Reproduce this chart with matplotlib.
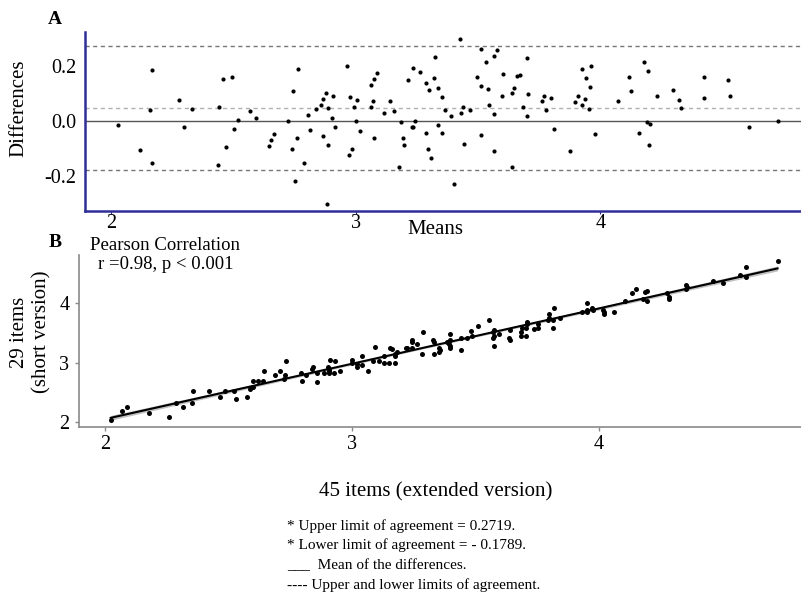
import numpy as np
import matplotlib
matplotlib.use("Agg")
import matplotlib.pyplot as plt

plt.rcParams['font.family'] = ['Liberation Serif', 'DejaVu Serif']

# Panel A (Bland-Altman): means and differences
means = [2.030, 2.120, 2.167, 2.158, 2.166, 2.279, 2.299, 2.332, 2.456, 2.495,
         2.440, 2.520, 2.503, 2.471, 2.437, 2.570, 2.592,
         2.645, 2.656, 2.665, 2.725, 2.740, 2.744, 2.763, 2.762, 2.752, 2.787,
         2.805, 2.812, 2.838, 2.857, 2.868, 2.879, 2.886, 2.867, 2.887, 2.902,
         2.907, 2.916, 2.884, 2.965, 2.976, 2.973, 2.984, 2.995, 3.004, 3.000,
         3.018, 3.064, 3.076, 3.087, 3.061, 3.072, 3.073, 3.117, 3.140, 3.157,
         3.185, 3.192, 3.197, 3.176, 3.212, 3.236, 3.264, 3.230, 3.236, 3.242,
         3.286, 3.298, 3.320, 3.325, 3.336, 3.287, 3.294, 3.310, 3.338,
         3.352, 3.352, 3.366, 3.388, 3.403, 3.426, 3.429, 3.440, 3.441, 3.468,
         3.494, 3.511, 3.511, 3.511, 3.531, 3.540, 3.545, 3.564, 3.564, 3.567,
         3.578, 3.601, 3.597, 3.637, 3.647, 3.640, 3.658, 3.670, 3.682, 3.699,
         3.701, 3.705, 3.760, 3.770, 3.778, 3.800, 3.812, 3.875, 3.896, 3.907,
         3.925, 3.942, 3.963, 3.924, 3.936, 3.956, 3.952, 3.977,
         4.071, 4.116, 4.124, 4.156, 4.177, 4.196, 4.191, 4.201, 4.197, 4.231,
         4.297, 4.322, 4.331, 4.423, 4.422, 4.522, 4.528, 4.608, 4.724]
diffs = [-0.013, -0.105, 0.184, 0.039, -0.152, 0.075, -0.023, 0.044, 0.152, 0.160,
         0.051, 0.005, -0.029, -0.096, -0.161, 0.037, 0.012,
         -0.091, -0.068, -0.047, 0.002, -0.103, 0.108, 0.190, -0.061, -0.217, -0.152,
         0.023, -0.033, 0.044, 0.059, 0.081, 0.102, 0.047, -0.055, -0.088, 0.011,
         0.091, -0.022, -0.301, 0.201, 0.088, -0.125, -0.102, 0.053, 0.076, 0.000,
         -0.035, 0.130, 0.152, 0.175, 0.053, 0.074, -0.061, 0.028, 0.072, 0.038,
         -0.004, -0.061, -0.087, -0.166, 0.148, 0.192, 0.179, -0.021, -0.023, 0.002,
         0.139, 0.112, 0.155, 0.234, 0.121, -0.045, -0.101, -0.135, -0.013,
         0.087, -0.043, 0.039, 0.018, -0.228, 0.297, 0.029, 0.051, -0.084, 0.039,
         0.160, 0.261, 0.127, -0.052, 0.215, 0.115, 0.058, 0.024, -0.109, 0.237,
         0.259, 0.170, 0.090, 0.102, 0.121, -0.168, 0.164, 0.167, 0.053, 0.018,
         0.228, 0.098, 0.074, 0.091, 0.039, 0.084, -0.029, -0.109, 0.070, 0.091,
         0.190, 0.156, 0.201, 0.057, 0.079, 0.123, 0.045, -0.046,
         0.074, 0.162, 0.108, -0.044, 0.216, 0.182, -0.002, -0.009, -0.087, 0.091,
         0.112, 0.076, 0.047, 0.162, 0.085, 0.148, 0.092, -0.022, 0.002]

upper_loa = 0.2719
lower_loa = -0.1789
mean_diff = (upper_loa + lower_loa) / 2

xticks = [2, 3, 4]
a_yticks = [-0.2, 0.0, 0.2]
a_yticklabels = ['-0.2', '0.0', '0.2']
b_yticks = [2, 3, 4]

footnotes = ["* Upper limit of agreement = 0.2719.",
             "* Lower limit of agreement = - 0.1789.",
             "___  Mean of the differences.",
             "---- Upper and lower limits of agreement."]

# Panel B: extended (45 items) and short (29 items) scores from the Bland-Altman pairs
m = np.array(means)
d = np.array(diffs)
long_v = m + d / 2
short_v = m - d / 2

W, H = 801, 610
fig = plt.figure(figsize=(W / 100, H / 100), dpi=100)

def fx(px):
    return px / W

def fy(py):
    return 1 - py / H

navy = '#2e2e96'
TICK = 14.5
LAB = 15
# ---------------- Panel A ----------------
axA = fig.add_axes([fx(85), fy(211), fx(801) - fx(85), fy(32) - fy(211)])
axA.set_xlim(1.894, 4.82)
axA.set_ylim(-0.327, 0.324)
axA.axhline(0, color='#555555', lw=1.0, zorder=1)
axA.axhline(upper_loa, color='#777777', lw=1.0, ls=(0, (3, 2.5)), zorder=1)
axA.axhline(lower_loa, color='#777777', lw=1.0, ls=(0, (3, 2.5)), zorder=1)
axA.axhline(mean_diff, color='#b0b0b0', lw=1.0, ls=(0, (3, 2.5)), zorder=1)
axA.scatter(means, diffs, s=9, color='black', linewidths=0, zorder=3)
for s in ['top', 'right']:
    axA.spines[s].set_visible(False)
for s in ['left', 'bottom']:
    axA.spines[s].set_color(navy)
    axA.spines[s].set_linewidth(1.8)
axA.set_xticks(xticks)
axA.set_xticklabels([str(t) for t in xticks])
axA.set_yticks(a_yticks)
axA.set_yticklabels(a_yticklabels)
axA.tick_params(axis='x', length=2, pad=0, labelsize=TICK, color=navy)
axA.tick_params(axis='y', length=0, pad=6, labelsize=TICK)
fig.text(fx(19), fy(108), 'Differences', rotation=90, ha='center', va='center', fontsize=LAB)
fig.text(fx(435), fy(230), 'Means', ha='center', va='center', fontsize=LAB)
fig.text(fx(55), fy(20), 'A', ha='center', va='center', fontsize=14, fontweight='bold')

# ---------------- Panel B ----------------
axB = fig.add_axes([fx(79), fy(427), fx(801) - fx(79), fy(255) - fy(427)])
axB.set_xlim(1.895, 4.82)
axB.set_ylim(1.91, 4.82)

coef = np.polyfit(long_v, short_v, 1)
xs = np.linspace(long_v.min(), long_v.max(), 100)
ys = np.polyval(coef, xs)
n = len(long_v)
resid = short_v - np.polyval(coef, long_v)
s_err = np.sqrt(np.sum(resid ** 2) / (n - 2))
sxx = np.sum((long_v - long_v.mean()) ** 2)
se = s_err * np.sqrt(1 / n + (xs - long_v.mean()) ** 2 / sxx)
axB.fill_between(xs, ys - 1.98 * se, ys + 1.98 * se, color='#999999', alpha=0.6, lw=0, zorder=2)
axB.plot(xs, ys, color='black', lw=1.5, zorder=3)
axB.scatter(long_v, short_v, s=13, color='black', linewidths=0, zorder=4)
for s in ['top', 'right']:
    axB.spines[s].set_visible(False)
for s in ['left', 'bottom']:
    axB.spines[s].set_color('#8a8a8a')
    axB.spines[s].set_linewidth(1.2)
axB.set_xticks(xticks)
axB.set_xticklabels([str(t) for t in xticks])
axB.set_yticks(b_yticks)
axB.set_yticklabels([str(t) for t in b_yticks])
axB.tick_params(axis='both', length=3, width=1, color='#8a8a8a', labelsize=TICK)
axB.tick_params(axis='x', pad=3)
axB.tick_params(axis='y', pad=4)
fig.text(fx(55), fy(243), 'B', ha='center', va='center', fontsize=14, fontweight='bold')
fig.text(fx(165), fy(245), 'Pearson Correlation', ha='center', va='center', fontsize=13.5)
fig.text(fx(166), fy(265), 'r =0.98, p < 0.001', ha='center', va='center', fontsize=13.5)
fig.text(fx(436), fy(492), '45 items (extended version)', ha='center', va='center', fontsize=LAB)
fig.text(fx(31), fy(332), '29 items\n(short version)', rotation=90, ha='center', va='center',
         fontsize=LAB, linespacing=1.2)

# ---------------- Footnotes ----------------
for i, t in enumerate(footnotes):
    fig.text(fx(287), fy(526 + i * 19.6), t, ha='left', va='center', fontsize=11)

fig.savefig('out.png', dpi=100)
